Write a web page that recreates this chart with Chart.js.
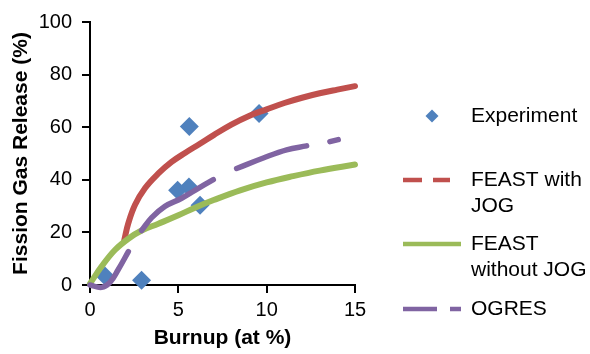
<!DOCTYPE html>
<html>
<head>
<meta charset="utf-8">
<title>Fission Gas Release</title>
<script src="https://cdn.jsdelivr.net/npm/chart.js@4.4.1/dist/chart.umd.min.js"></script>
<style>
  html, body { margin: 0; padding: 0; background: #fff; }
</style>
</head>
<body>
<canvas id="fgrChart" width="590" height="354"></canvas>
<script>
/* globals Chart:false */

// Experiment points
const expBurnup = [0.85, 2.92, 4.96, 5.6, 5.62, 6.23, 9.57]
const expFgr = [3.4, 1.8, 36, 37.3, 60.3, 30.3, 65.2]

// FEAST with JOG
const jogBurnup = [1.94, 2.17, 2.55, 3.11, 3.87, 4.62, 5.4, 6.2, 7.0, 8.0, 9.0, 10.0, 11.0, 12.0, 13.0, 14.0, 15.0]
const jogFgr = [17, 23.5, 30.5, 36.8, 42.4, 46.8, 50.3, 53.6, 57, 61, 64.3, 66.8, 69.2, 71.2, 72.9, 74.3, 75.6]

// FEAST without JOG
const noJogBurnup = [0, 0.66, 1.41, 2.17, 2.92, 3.87, 5.0, 5.94, 7.0, 8.5, 10.0, 11.5, 13.0, 15.0]
const noJogFgr = [0.5, 7.1, 13.3, 17.6, 20.7, 23.3, 26.5, 29.4, 32.3, 36, 39, 41.4, 43.5, 45.8]

// OGRES (null = break in the dashed line)
const ogresBurnup = [0, 0.66, 1.13, 1.6, 2.17, 2.55, 2.92, 3.49, 4.24, 5.19, 5.94, 6.98, 7.6, 8.3, 9.81, 11.13, 12.26, 12.9, 13.58, 14.05]
const ogresFgr = [0, -0.9, 1, 5.9, 12.7, null, 20.7, 25.6, 29.9, 33, 36, 40.1, null, 44.3, 48.3, 51.4, 52.9, null, 54.5, 55.3]

const xTicks = [0, 5, 10, 15]
const yTicks = [0, 20, 40, 60, 80, 100]

const seriesNames = [['Experiment'], ['FEAST with', 'JOG'], ['FEAST', 'without JOG'], ['OGRES']]

const FONT = "'Liberation Sans', Arial, sans-serif"

const toPoints = (xs, ys) => xs.map((x, i) => ({ x: x, y: ys[i] }))

// legend on the right, drawn by hand because of the two-line labels
const sideLegend = {
  id: 'sideLegend',
  afterDraw(chart) {
    const ctx = chart.ctx
    const rows = [116, 180, 244, 309]
    const lineGap = 26.5
    ctx.save()
    chart.data.datasets.forEach((ds, i) => {
      const y = rows[i]
      if (ds.showLine) {
        ctx.beginPath()
        ctx.setLineDash(ds.legendDash || [])
        ctx.lineWidth = 4.5
        ctx.lineCap = 'butt'
        ctx.strokeStyle = ds.borderColor
        ctx.moveTo(403, y)
        ctx.lineTo(ds.legendEnd, y)
        ctx.stroke()
      } else {
        ctx.beginPath()
        ctx.setLineDash([])
        ctx.fillStyle = ds.backgroundColor
        ctx.moveTo(432, y - 6.5)
        ctx.lineTo(438.5, y)
        ctx.lineTo(432, y + 6.5)
        ctx.lineTo(425.5, y)
        ctx.closePath()
        ctx.fill()
      }
      ctx.fillStyle = '#000'
      ctx.font = '21px ' + FONT
      ctx.textAlign = 'left'
      ctx.textBaseline = 'middle'
      seriesNames[i].forEach((line, j) => {
        ctx.fillText(line, 471, y + j * lineGap)
      })
    })
    ctx.restore()
  }
}

const ctx = document.getElementById('fgrChart')
// eslint-disable-next-line no-unused-vars
const fgrChart = new Chart(ctx, {
  type: 'scatter',
  data: {
    datasets: [{
      label: seriesNames[0].join(' '),
      data: toPoints(expBurnup, expFgr),
      pointStyle: 'rectRot',
      pointRadius: 9.5,
      borderWidth: 0,
      backgroundColor: '#4F81BD',
      borderColor: '#4F81BD',
      order: 4
    }, {
      label: seriesNames[1].join(' '),
      data: toPoints(jogBurnup, jogFgr),
      showLine: true,
      pointRadius: 0,
      borderColor: '#C0504D',
      borderWidth: 6,
      borderCapStyle: 'round',
      tension: 0.4,
      legendDash: [19, 11],
      legendEnd: 450,
      order: 3
    }, {
      label: seriesNames[2].join(' '),
      data: toPoints(noJogBurnup, noJogFgr),
      showLine: true,
      pointRadius: 0,
      borderColor: '#9BBB59',
      borderWidth: 6,
      borderCapStyle: 'round',
      tension: 0.4,
      legendEnd: 461,
      order: 2
    }, {
      label: seriesNames[3].join(' '),
      data: toPoints(ogresBurnup, ogresFgr),
      showLine: true,
      spanGaps: false,
      pointRadius: 0,
      borderColor: '#8064A2',
      borderWidth: 5.5,
      borderCapStyle: 'round',
      tension: 0.4,
      legendDash: [34, 13],
      legendEnd: 461,
      order: 1
    }]
  },
  options: {
    responsive: false,
    animation: false,
    events: [],
    clip: false,
    layout: {
      padding: { top: 15, right: 235, bottom: 0, left: 0 }
    },
    plugins: {
      legend: { display: false },
      tooltip: { enabled: false }
    },
    scales: {
      x: {
        type: 'linear',
        min: 0,
        max: 15,
        afterBuildTicks: (scale) => { scale.ticks = xTicks.map(v => ({ value: v })) },
        afterFit: (scale) => { scale.height = 69 },
        border: { display: true, color: '#000', width: 2 },
        grid: { drawOnChartArea: false, drawTicks: true, tickLength: 8, color: '#000', lineWidth: 2 },
        ticks: { color: '#000', padding: 5, font: { family: FONT, size: 20 } },
        title: {
          display: true,
          text: 'Burnup (at %)',
          color: '#000',
          padding: { top: 0, bottom: 3 },
          font: { family: FONT, size: 21, weight: 'bold' }
        }
      },
      y: {
        type: 'linear',
        min: 0,
        max: 100,
        afterBuildTicks: (scale) => { scale.ticks = yTicks.map(v => ({ value: v })) },
        afterFit: (scale) => { scale.width = 90 },
        border: { display: true, color: '#000', width: 2 },
        grid: { drawOnChartArea: false, drawTicks: true, tickLength: 8, color: '#000', lineWidth: 2 },
        ticks: { color: '#000', padding: 10, font: { family: FONT, size: 20 } },
        title: {
          display: true,
          text: 'Fission Gas Release (%)',
          color: '#000',
          padding: { top: 9, bottom: 0 },
          font: { family: FONT, size: 21, weight: 'bold' }
        }
      }
    }
  },
  plugins: [sideLegend]
})
</script>
</body>
</html>
